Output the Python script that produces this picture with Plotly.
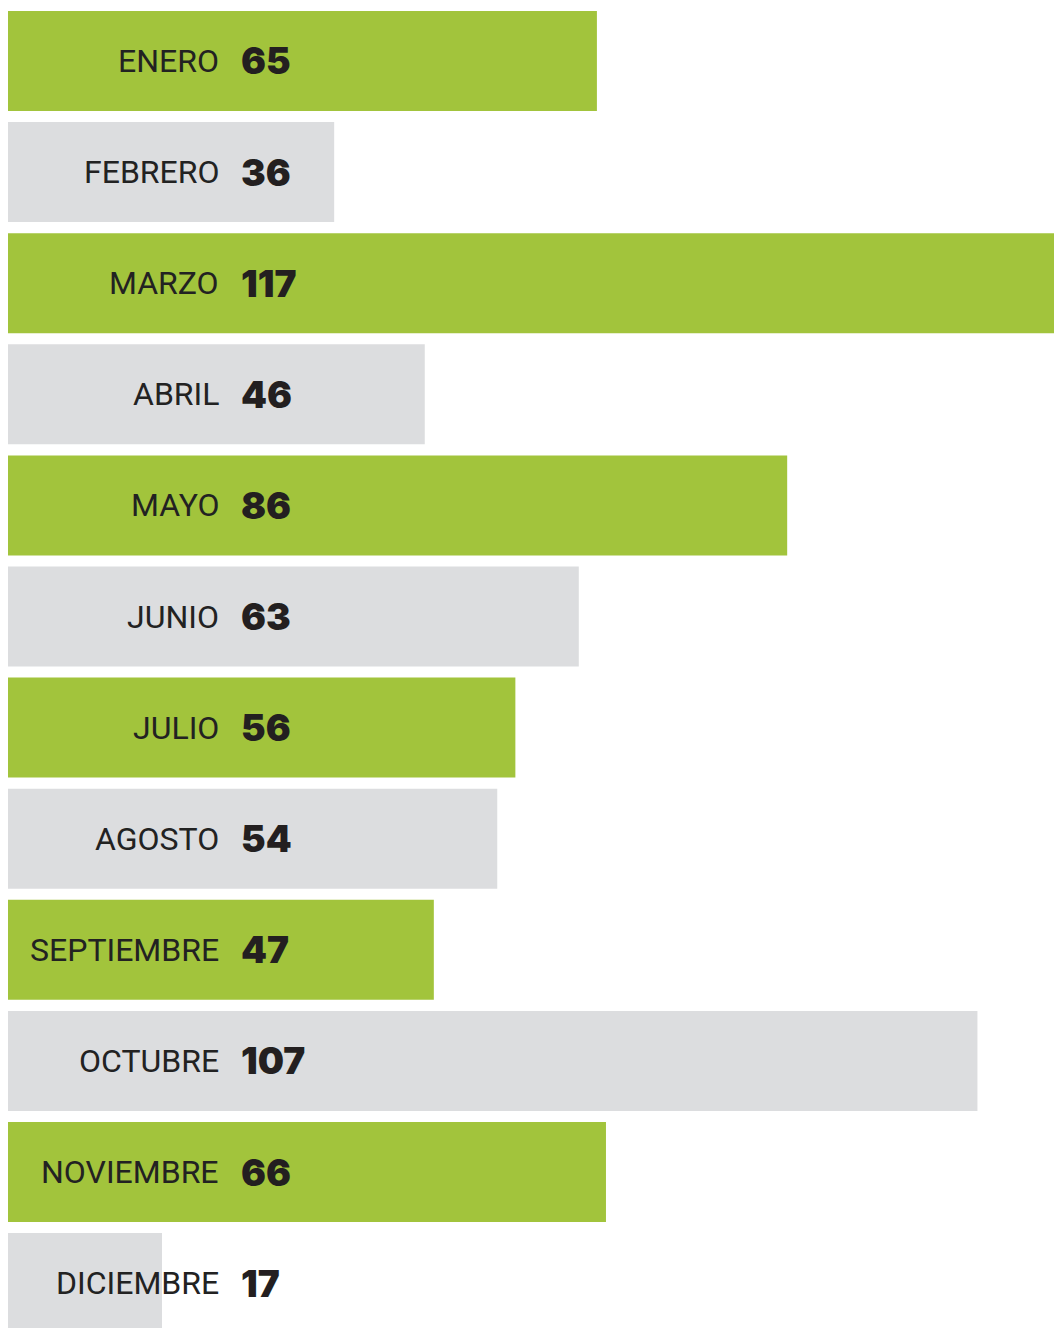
import plotly.graph_objects as go

# datos por mes
meses = ["ENERO", "FEBRERO", "MARZO", "ABRIL", "MAYO", "JUNIO",
         "JULIO", "AGOSTO", "SEPTIEMBRE", "OCTUBRE", "NOVIEMBRE", "DICIEMBRE"]
valores = [65, 36, 117, 46, 86, 63, 56, 54, 47, 107, 66, 17]

verde = "#a2c43c"
gris = "#dcdddf"
colores = [verde if i % 2 == 0 else gris for i in range(len(meses))]

fig = go.Figure()
fig.add_trace(go.Bar(
    x=valores, y=meses, orientation="h",
    marker=dict(color=colores, line=dict(width=0)),
    hoverinfo="x+y",
))

# etiquetas: nombre del mes y valor en negrita
for mes, val in zip(meses, valores):
    fig.add_annotation(x=0.2036, y=mes, xref="paper", yref="y", text=mes,
                       showarrow=False, xanchor="right", yanchor="middle",
                       font=dict(family="Roboto", size=32, color="#222222"))
    fig.add_annotation(x=0.2208, y=mes, xref="paper", yref="y", text=str(val),
                       showarrow=False, xanchor="left", yanchor="middle",
                       font=dict(family="Inter", size=37, color="#231f20", weight=900))

fig.update_layout(
    width=1054, height=1328,
    margin=dict(l=8, r=0, t=0, b=0),
    bargap=0.1,
    plot_bgcolor="white", paper_bgcolor="white",
    showlegend=False,
    xaxis=dict(range=[0, 115.45], visible=False, fixedrange=True),
    yaxis=dict(range=[11.404, -0.549], visible=False, fixedrange=True),
)

# sin margen del body para que el grafico ocupe toda la ventana
fig.write_html("out.html", config={"displayModeBar": False},
               post_script="document.body.style.margin='0';")
